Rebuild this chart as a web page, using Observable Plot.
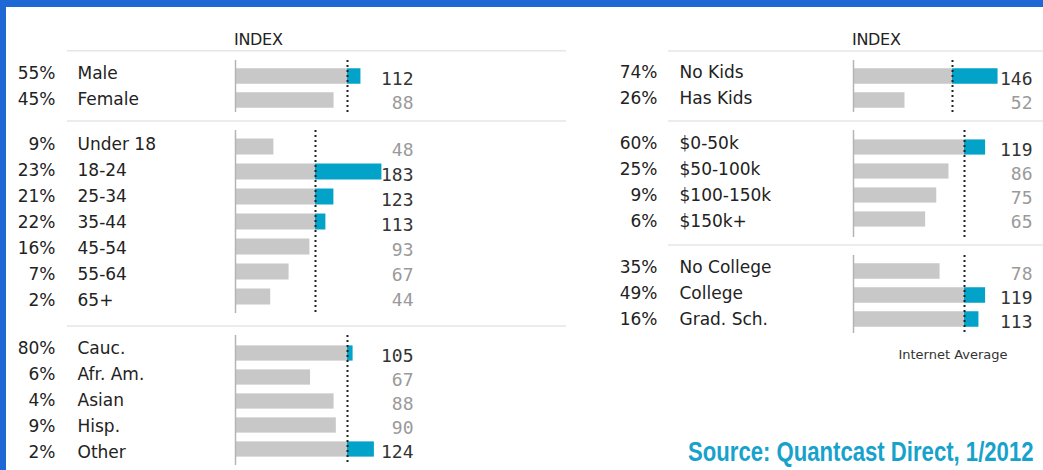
<!DOCTYPE html>
<html>
<head>
<meta charset="utf-8">
<script src="https://cdn.jsdelivr.net/npm/d3@7"></script>
<script src="https://cdn.jsdelivr.net/npm/@observablehq/plot@0.6"></script>
<style>
  html, body { margin: 0; padding: 0; background: #fff; }
  #root { position: relative; width: 1043px; height: 470px; background: #1f67d4; overflow: hidden; }
  #panel { position: absolute; left: 6px; top: 7px; right: 0; bottom: 0; background: #fff; }
  .abs { position: absolute; }
  svg.overlay { position: absolute; left: 0; top: 0; }
</style>
</head>
<body>
<div id="root">
  <div id="panel"></div>
  <svg class="overlay" width="1043" height="470" id="ov"></svg>
</div>
<script>
// ---------- DATA ----------
const genderCats = ["Male", "Female"];
const genderPct  = [55, 45];
const genderIdx  = [112, 88];

const ageCats = ["Under 18", "18-24", "25-34", "35-44", "45-54", "55-64", "65+"];
const agePct  = [9, 23, 21, 22, 16, 7, 2];
const ageIdx  = [48, 183, 123, 113, 93, 67, 44];

const ethCats = ["Cauc.", "Afr. Am.", "Asian", "Hisp.", "Other"];
const ethPct  = [80, 6, 4, 9, 2];
const ethIdx  = [105, 67, 88, 90, 124];

const kidsCats = ["No Kids", "Has Kids"];
const kidsPct  = [74, 26];
const kidsIdx  = [146, 52];

const incCats = ["$0-50k", "$50-100k", "$100-150k", "$150k+"];
const incPct  = [60, 25, 9, 6];
const incIdx  = [119, 86, 75, 65];

const eduCats = ["No College", "College", "Grad. Sch."];
const eduPct  = [35, 49, 16];
const eduIdx  = [78, 119, 113];

const baseline = 100; // Internet average index
const headerText = "INDEX";
const footLabel = "Internet Average";
const sourceText = "Source: Quantcast Direct, 1/2012";

// ---------- STYLE / LAYOUT ----------
const BLUE = "#03a3c9", GRAY = "#c8c8c8";
const SANS = "DejaVu Sans, Lucida Grande, sans-serif";
const MONO = "DejaVu Sans Mono, monospace";

const panels = {
  left:  {x: 0,   w: 420, ax: 235, valRight: 413, pctRight: 55, catLeft: 77},
  right: {x: 580, w: 463, ax: 273, valRight: 452, pctRight: 77, catLeft: 99}
};

const sections = [
  {p: "left",  cats: genderCats, pct: genderPct, idx: genderIdx, top: 60,  h: 52,  k: 1.12, first: 15.5, step: 24.5, lf: 12.2, ls: 26.8},
  {p: "left",  cats: ageCats,    pct: agePct,    idx: ageIdx,    top: 130, h: 183, k: 0.80, first: 16,   step: 25,   lf: 12.2, ls: 26.5},
  {p: "left",  cats: ethCats,    pct: ethPct,    idx: ethIdx,    top: 335, h: 130, k: 1.12, first: 16,   step: 24.75, lf: 12.7, ls: 26.2},
  {p: "right", cats: kidsCats,   pct: kidsPct,   idx: kidsIdx,   top: 60,  h: 52,  k: 0.99, first: 15.5, step: 24.5, lf: 12.0, ls: 26.7},
  {p: "right", cats: incCats,    pct: incPct,    idx: incIdx,    top: 130, h: 107, k: 1.11, first: 16,   step: 24.8, lf: 12.2, ls: 26.2},
  {p: "right", cats: eduCats,    pct: eduPct,    idx: eduIdx,    top: 255, h: 78,  k: 1.11, first: 15,   step: 24.5, lf: 11.4, ls: 26.7}
];

const root = document.getElementById("root");
const svgStyle = {background: "transparent", overflow: "visible", maxWidth: "none", fontFamily: SANS};

function place(node, x, y) {
  const d = document.createElement("div");
  d.className = "abs";
  d.style.left = x + "px";
  d.style.top = y + "px";
  d.appendChild(node);
  root.appendChild(d);
}

for (const s of sections) {
  const P = panels[s.p];
  const n = s.cats.length;
  const rows = s.cats.map((c, i) => ({cat: c, pct: s.pct[i], val: s.idx[i]}));
  const inset = (s.step - 16) / 2;

  const bars = Plot.plot({
    width: P.w, height: s.h, margin: 0,
    style: svgStyle,
    x: {domain: [0, baseline], range: [P.ax, P.ax + baseline * s.k], axis: null},
    y: {type: "band", domain: s.cats, range: [s.first - s.step / 2, s.first + (n - 0.5) * s.step], padding: 0, axis: null},
    marks: [
      Plot.barX(rows, {y: "cat", x1: () => 0, x2: d => Math.min(d.val, baseline), fill: GRAY, insetTop: inset, insetBottom: inset}),
      Plot.barX(rows.filter(d => d.val > baseline), {y: "cat", x1: () => baseline, x2: "val", fill: BLUE, insetTop: inset, insetBottom: inset}),
      Plot.ruleX([0], {stroke: "#b4b4b4", strokeWidth: 1.5}),
      Plot.ruleX([baseline], {stroke: "#222", strokeWidth: 2, strokeDasharray: "2,3"}),
      Plot.text(rows.filter(d => d.val >= baseline), {y: "cat", text: d => String(d.val), frameAnchor: "right", dx: P.valRight - P.w, dy: 3, textAnchor: "end", fill: "#333", fontFamily: MONO, fontSize: 18}),
      Plot.text(rows.filter(d => d.val < baseline), {y: "cat", text: d => String(d.val), frameAnchor: "right", dx: P.valRight - P.w, dy: 3, textAnchor: "end", fill: "#9a9a9a", fontFamily: MONO, fontSize: 18})
    ]
  });
  place(bars, P.x, s.top);

  const labels = Plot.plot({
    width: P.ax - 20, height: s.h, margin: 0,
    style: svgStyle,
    y: {type: "band", domain: s.cats, range: [s.lf - s.ls / 2, s.lf + (n - 0.5) * s.ls], padding: 0, axis: null},
    marks: [
      Plot.text(rows, {y: "cat", text: d => d.pct + "%", frameAnchor: "left", dx: P.pctRight, textAnchor: "end", fill: "#222", fontFamily: SANS, fontSize: 17}),
      Plot.text(rows, {y: "cat", text: "cat", frameAnchor: "left", dx: P.catLeft, textAnchor: "start", fill: "#222", fontFamily: SANS, fontSize: 17})
    ]
  });
  place(labels, P.x, s.top);
}

// ---------- annotations (headers, separators, footer) ----------
const ov = d3.select("#ov");
const seps = [
  {x1: 67, x2: 566, y: 50.7}, {x1: 67, x2: 566, y: 121}, {x1: 67, x2: 566, y: 326},
  {x1: 668, x2: 1043, y: 51}, {x1: 668, x2: 1043, y: 121}, {x1: 668, x2: 1043, y: 245}
];
ov.selectAll("line").data(seps).join("line")
  .attr("x1", d => d.x1).attr("x2", d => d.x2).attr("y1", d => d.y).attr("y2", d => d.y)
  .attr("stroke", "#e6e6e6").attr("stroke-width", 1.5);

ov.append("text").attr("x", 234).attr("y", 45).text(headerText)
  .attr("font-family", SANS).attr("font-size", 16).attr("fill", "#222").attr("letter-spacing", -0.3);
ov.append("text").attr("x", 852).attr("y", 45).text(headerText)
  .attr("font-family", SANS).attr("font-size", 16).attr("fill", "#222").attr("letter-spacing", -0.3);
ov.append("text").attr("x", 953).attr("y", 359).attr("text-anchor", "middle").text(footLabel)
  .attr("font-family", SANS).attr("font-size", 13).attr("fill", "#333");
ov.append("text").attr("transform", "translate(688,461) scale(0.82,1)").text(sourceText)
  .attr("font-family", "Liberation Sans, Arial, sans-serif").attr("font-weight", "bold")
  .attr("font-size", 27).attr("fill", "#17a2cc");
</script>
</body>
</html>
